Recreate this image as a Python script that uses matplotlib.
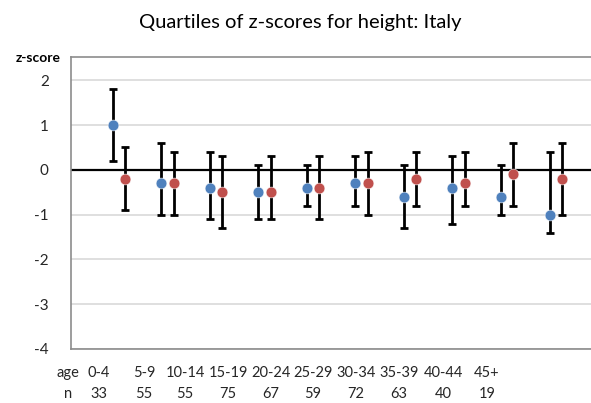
import numpy as np
import matplotlib
matplotlib.use('Agg')
import matplotlib.pyplot as plt

plt.rcParams['font.family'] = ['Lato', 'DejaVu Sans']

# data
ages = ['0-4', '5-9', '10-14', '15-19', '20-24', '25-29', '30-34', '35-39', '40-44', '45+']
n = [33, 55, 55, 75, 67, 59, 72, 63, 40, 19]

blue_med = [1.0, -0.3, -0.4, -0.5, -0.4, -0.3, -0.6, -0.4, -0.6, -1.0]
blue_q1 = [0.2, -1.0, -1.1, -1.1, -0.8, -0.8, -1.3, -1.2, -1.0, -1.4]
blue_q3 = [1.8, 0.6, 0.4, 0.1, 0.1, 0.3, 0.1, 0.3, 0.1, 0.4]

red_med = [-0.2, -0.3, -0.5, -0.5, -0.4, -0.3, -0.2, -0.3, -0.1, -0.2]
red_q1 = [-0.9, -1.0, -1.3, -1.1, -1.1, -1.0, -0.8, -0.8, -0.8, -1.0]
red_q3 = [0.5, 0.4, 0.3, 0.3, 0.3, 0.4, 0.4, 0.4, 0.6, 0.6]

x = np.arange(len(ages))
off = 0.125

fig = plt.figure(figsize=(5.91, 4.03), dpi=100)
ax = fig.add_axes([0.120, 0.134, 0.88, 0.7246])

# gridlines and zero line
for y in [-4, -3, -2, -1, 1, 2]:
    ax.axhline(y, color='#d9d9d9', lw=1.2, zorder=0)
ax.axhline(0, color='black', lw=1.6, zorder=1)

def draw(xs, med, q1, q3, color):
    med = np.array(med)
    lo = med - np.array(q1)
    hi = np.array(q3) - med
    ax.errorbar(xs, med, yerr=[lo, hi], fmt='none', ecolor='black',
                elinewidth=2, capsize=3.2, capthick=2, zorder=2)
    ax.plot(xs, med, 'o', color=color, markersize=7.8, zorder=3,
            markeredgecolor='white', markeredgewidth=0.4)

draw(x - off, blue_med, blue_q1, blue_q3, '#4f81bd')
draw(x + off, red_med, red_q1, red_q3, '#c0504d')

ax.set_xlim(-0.99, 9.73)
ax.set_ylim(-4, 2.52)
ax.set_yticks([-4, -3, -2, -1, 0, 1, 2])
ax.set_yticklabels(['-4', '-3', '-2', '-1', '0', '1', '2'])
ax.tick_params(axis='y', length=0, pad=16, labelsize=11, labelcolor='#262626')
ax.set_xticks([])

for s in ['left', 'top', 'bottom']:
    ax.spines[s].set_color('#8c8c8c')
    ax.spines[s].set_linewidth(1.2)
ax.spines['right'].set_visible(False)

fig.text(0.508, 0.945, 'Quartiles of z-scores for height: Italy', ha='center', va='center',
         fontsize=14.5, color='black')
fig.text(0.065, 0.856, 'z-score', ha='center', va='center', fontsize=10,
         fontweight='bold', color='black')

# age / n table under the axis
col_x = [99, 144, 185, 228, 271, 313, 356, 399, 443, 487]
fig.text(68 / 591, 1 - 373 / 403, 'age', ha='center', va='center', fontsize=10.5, color='#262626')
fig.text(68 / 591, 1 - 394 / 403, 'n', ha='center', va='center', fontsize=10.5, color='#262626')
for i in range(len(ages)):
    fig.text(col_x[i] / 591, 1 - 373 / 403, ages[i], ha='center', va='center',
             fontsize=10.5, color='#262626')
    fig.text(col_x[i] / 591, 1 - 394 / 403, str(n[i]), ha='center', va='center',
             fontsize=10.5, color='#262626')

fig.savefig('out.png', dpi=100)
